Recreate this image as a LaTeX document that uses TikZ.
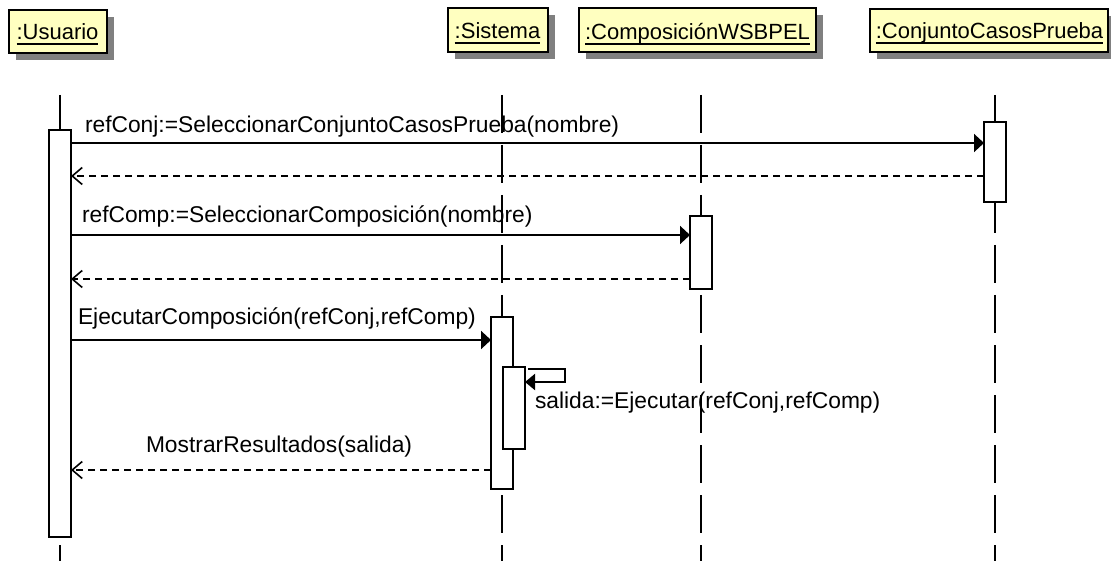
\documentclass[tikz,border=0pt]{standalone}
\usepackage{fontspec}
\setmainfont{Liberation Sans}
\usetikzlibrary{arrows.meta,shadows}
\definecolor{headfill}{RGB}{255,255,192}
\definecolor{shadowgray}{RGB}{128,128,128}

\begin{document}
\begin{tikzpicture}[x=1pt,y=-1pt,
  font=\fontsize{22}{26}\selectfont,
  every node/.style={inner sep=0pt, outer sep=0pt},
  headbox/.style={draw=black, line width=2pt, fill=headfill, rectangle,
    drop shadow={shadow xshift=7pt, shadow yshift=-7pt, fill=shadowgray, opacity=1}},
  headlabel/.style={anchor=base},
  underl/.style={line width=1.4pt},
  lifeline/.style={line width=2pt, dash pattern=on 38pt off 12pt},
  actbox/.style={draw=black, line width=2pt, fill=white, rectangle, minimum width=22pt},
  call/.style={line width=2pt, -{Triangle[length=10pt,width=18pt]}},
  selfcall/.style={line width=2pt, -{Triangle[length=10pt,width=16pt]}},
  reply/.style={line width=1.6pt, dash pattern=on 7pt off 5pt,
    -{Straight Barb[length=10pt,width=17pt,line width=1.6pt]}},
  msglabel/.style={anchor=base west, font=\fontsize{22.8}{27}\selectfont},
]
\useasboundingbox (0,0) rectangle (1111,561);

% object headers
\node[headbox, minimum width=98pt, minimum height=43pt] (usuario) at (57.5,32) {};
\node[headlabel] (usuarioT) at (57.5,40) {:Usuario};
\node[headbox, minimum width=100pt, minimum height=44pt] (sistema) at (497.5,30.5) {};
\node[headlabel] (sistemaT) at (497.5,39) {:Sistema};
\node[headbox, minimum width=237pt, minimum height=44pt] (compo) at (697,30.5) {};
\node[headlabel] (compoT) at (697.5,40) {:ComposiciónWSBPEL};
\node[headbox, minimum width=238pt, minimum height=43pt] (conj) at (988.5,31) {};
\node[headlabel] (conjT) at (989.5,39) {:ConjuntoCasosPrueba};
\foreach \t in {usuarioT,sistemaT,compoT,conjT}
  \draw[underl] ([yshift=-4pt]\t.base west) -- ([yshift=-4pt]\t.base east);

% lifelines
\coordinate (lU) at (60,95);
\coordinate (lS) at (502,95);
\coordinate (lC) at (701,95);
\coordinate (lP) at (995,95);
\coordinate (bottom) at (0,561);
\foreach \l in {lU,lS,lC,lP}
  \draw[lifeline] (\l) -- (\l |- bottom);

% activation bars
\node[actbox, minimum height=407pt] (actU) at (60,333.5) {};
\node[actbox, minimum height=80pt] (actP) at (995,162) {};
\node[actbox, minimum height=73pt] (actC) at (701,252.5) {};
\node[actbox, minimum height=172pt] (actS) at (502,403) {};
\node[actbox, minimum height=82pt] (actN) at (514,408) {};

% message levels
\coordinate (m1) at (0,143);
\coordinate (r1) at (0,176);
\coordinate (m2) at (0,235);
\coordinate (r2) at (0,279);
\coordinate (m3) at (0,340);
\coordinate (m4a) at (0,369);
\coordinate (m4b) at (0,382);
\coordinate (r3) at (0,470);

% messages
\draw[call] (actU.east |- m1) -- (actP.west |- m1);
\draw[reply] (actP.west |- r1) -- (actU.east |- r1);
\draw[call] (actU.east |- m2) -- (actC.west |- m2);
\draw[reply] (actC.west |- r2) -- (actU.east |- r2);
\draw[call] (actU.east |- m3) -- (actS.west |- m3);
\draw[selfcall] ([xshift=3pt]actN.east |- m4a) -| ([xshift=40pt]actN.east |- m4b) -- (actN.east |- m4b);
\draw[reply] (actS.west |- r3) -- (actU.east |- r3);

% message labels
\node[msglabel] (t1) at (85,133) {refConj:=SeleccionarConjuntoCasosPrueba(nombre)};
\node[msglabel] (t2) at (82,223) {refComp:=SeleccionarComposición(nombre)};
\node[msglabel] (t3) at (78,325) {EjecutarComposición(refConj,refComp)};
\node[msglabel] (t4) at (535,408) {salida:=Ejecutar(refConj,refComp)};
\node[msglabel] (t5) at (146,452) {MostrarResultados(salida)};
\end{tikzpicture}
\end{document}
